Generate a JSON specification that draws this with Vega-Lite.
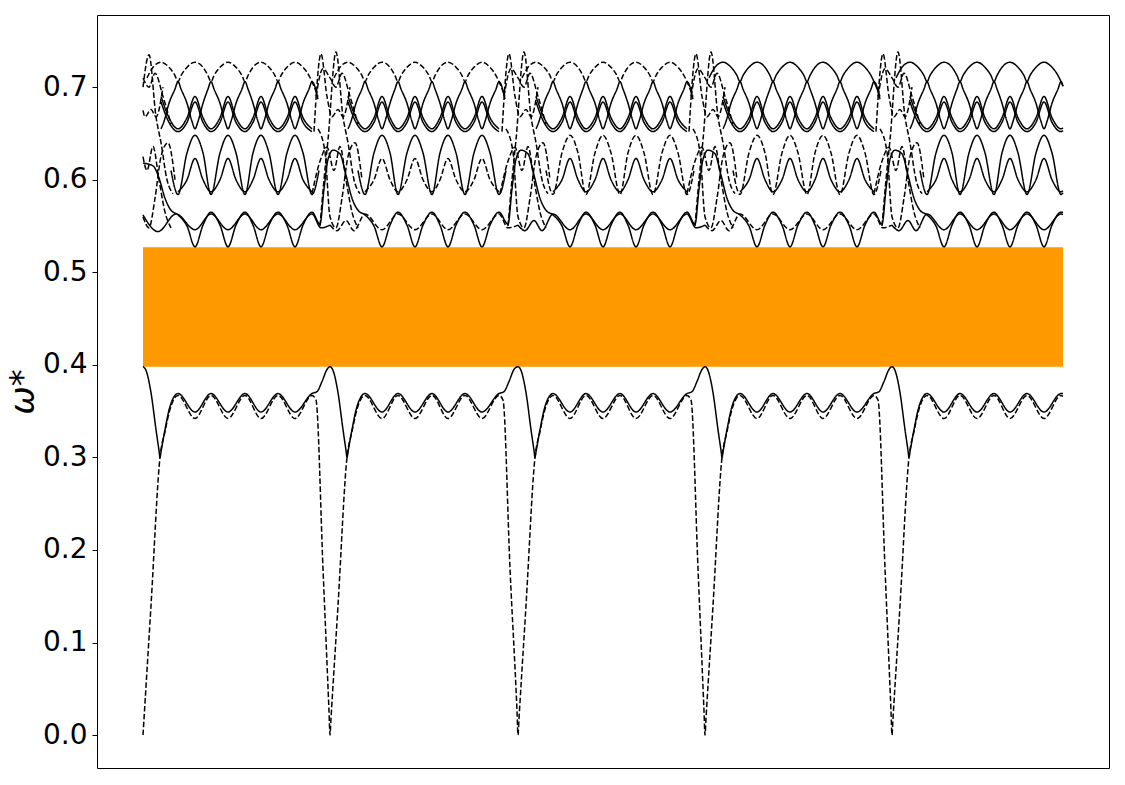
{
  "$schema": "https://vega.github.io/schema/vega-lite/v6.json",
  "description": "Band diagram: omega* branches over five repeated cells, with the gap between 0.398 and 0.527 shaded orange.",
  "width": 1012,
  "height": 753,
  "autosize": {"type": "none"},
  "padding": {"left": 97, "top": 15, "right": 16, "bottom": 17},
  "background": "white",
  "datasets": {
    "gap": [{"x": 0, "xe": 920, "y": 0.398, "ye": 0.527}],
    "styles": [
      {"c": "L2", "g": "dashed"},
      {"c": "B2_2", "g": "dashed"},
      {"c": "B2_4", "g": "dashed"},
      {"c": "M2_2", "g": "dashed"},
      {"c": "M1_3", "g": "dashed"},
      {"c": "M1_4", "g": "dashed"},
      {"c": "T1_1", "g": "dashed"},
      {"c": "T1_2", "g": "dashed"},
      {"c": "T1_3", "g": "dashed"}
    ],
    "curves": [
      {"c":"L1","x":0,"y":0.398},{"c":"L1","x":3,"y":0.394},{"c":"L1","x":8,"y":0.37},{"c":"L1","x":13,"y":0.33},{"c":"L1","x":16,"y":0.3075},{"c":"L1","x":17,"y":0.3},{"c":"L1","x":18,"y":0.306},{"c":"L1","x":22,"y":0.33},{"c":"L1","x":27,"y":0.355},{"c":"L1","x":35,"y":0.369},{"c":"L1","x":52,"y":0.349},{"c":"L1","x":68,"y":0.369},{"c":"L1","x":85,"y":0.349},{"c":"L1","x":102,"y":0.369},{"c":"L1","x":118,"y":0.349},{"c":"L1","x":135,"y":0.369},{"c":"L1","x":152,"y":0.349},{"c":"L1","x":169,"y":0.369},{"c":"L1","x":174,"y":0.371},{"c":"L1","x":179,"y":0.382},{"c":"L1","x":184,"y":0.395},
      {"c":"L1","x":187,"y":0.398},{"c":"L1","x":190,"y":0.394},{"c":"L1","x":195,"y":0.37},{"c":"L1","x":200,"y":0.33},{"c":"L1","x":203,"y":0.3075},{"c":"L1","x":204,"y":0.3},{"c":"L1","x":205,"y":0.306},{"c":"L1","x":209,"y":0.33},{"c":"L1","x":214,"y":0.355},{"c":"L1","x":222,"y":0.369},{"c":"L1","x":239,"y":0.349},{"c":"L1","x":255,"y":0.369},{"c":"L1","x":272,"y":0.349},{"c":"L1","x":289,"y":0.369},{"c":"L1","x":305,"y":0.349},{"c":"L1","x":322,"y":0.369},{"c":"L1","x":339,"y":0.349},{"c":"L1","x":356,"y":0.369},{"c":"L1","x":361,"y":0.371},{"c":"L1","x":366,"y":0.382},{"c":"L1","x":371,"y":0.395},
      {"c":"L1","x":375,"y":0.398},{"c":"L1","x":378,"y":0.394},{"c":"L1","x":383,"y":0.37},{"c":"L1","x":388,"y":0.33},{"c":"L1","x":391,"y":0.3075},{"c":"L1","x":392,"y":0.3},{"c":"L1","x":393,"y":0.306},{"c":"L1","x":397,"y":0.33},{"c":"L1","x":402,"y":0.355},{"c":"L1","x":410,"y":0.369},{"c":"L1","x":427,"y":0.349},{"c":"L1","x":443,"y":0.369},{"c":"L1","x":460,"y":0.349},{"c":"L1","x":477,"y":0.369},{"c":"L1","x":493,"y":0.349},{"c":"L1","x":510,"y":0.369},{"c":"L1","x":527,"y":0.349},{"c":"L1","x":544,"y":0.369},{"c":"L1","x":549,"y":0.371},{"c":"L1","x":554,"y":0.382},{"c":"L1","x":559,"y":0.395},
      {"c":"L1","x":562,"y":0.398},{"c":"L1","x":565,"y":0.394},{"c":"L1","x":570,"y":0.37},{"c":"L1","x":575,"y":0.33},{"c":"L1","x":578,"y":0.3075},{"c":"L1","x":579,"y":0.3},{"c":"L1","x":580,"y":0.306},{"c":"L1","x":584,"y":0.33},{"c":"L1","x":589,"y":0.355},{"c":"L1","x":597,"y":0.369},{"c":"L1","x":614,"y":0.349},{"c":"L1","x":630,"y":0.369},{"c":"L1","x":647,"y":0.349},{"c":"L1","x":664,"y":0.369},{"c":"L1","x":680,"y":0.349},{"c":"L1","x":697,"y":0.369},{"c":"L1","x":714,"y":0.349},{"c":"L1","x":731,"y":0.369},{"c":"L1","x":736,"y":0.371},{"c":"L1","x":741,"y":0.382},{"c":"L1","x":746,"y":0.395},
      {"c":"L1","x":749,"y":0.398},{"c":"L1","x":752,"y":0.394},{"c":"L1","x":757,"y":0.37},{"c":"L1","x":762,"y":0.33},{"c":"L1","x":765,"y":0.3075},{"c":"L1","x":766,"y":0.3},{"c":"L1","x":767,"y":0.306},{"c":"L1","x":771,"y":0.33},{"c":"L1","x":776,"y":0.355},{"c":"L1","x":784,"y":0.369},{"c":"L1","x":801,"y":0.349},{"c":"L1","x":817,"y":0.369},{"c":"L1","x":834,"y":0.349},{"c":"L1","x":851,"y":0.369},{"c":"L1","x":867,"y":0.349},{"c":"L1","x":884,"y":0.369},{"c":"L1","x":901,"y":0.349},{"c":"L1","x":918,"y":0.369},{"c":"L1","x":920,"y":0.369},

      {"c":"L2","x":0,"y":0.0},{"c":"L2","x":8,"y":0.14},{"c":"L2","x":17,"y":0.3},{"c":"L2","x":22,"y":0.328},{"c":"L2","x":27,"y":0.352},{"c":"L2","x":35,"y":0.367},{"c":"L2","x":52,"y":0.342},{"c":"L2","x":68,"y":0.367},{"c":"L2","x":85,"y":0.342},{"c":"L2","x":102,"y":0.367},{"c":"L2","x":118,"y":0.342},{"c":"L2","x":135,"y":0.367},{"c":"L2","x":152,"y":0.342},{"c":"L2","x":169,"y":0.367},{"c":"L2","x":173,"y":0.362},{"c":"L2","x":180,"y":0.18},{"c":"L2","x":186,"y":0.026},
      {"c":"L2","x":187,"y":0.0},{"c":"L2","x":188,"y":0.018},{"c":"L2","x":195,"y":0.14},{"c":"L2","x":204,"y":0.3},{"c":"L2","x":209,"y":0.328},{"c":"L2","x":214,"y":0.352},{"c":"L2","x":222,"y":0.367},{"c":"L2","x":239,"y":0.342},{"c":"L2","x":255,"y":0.367},{"c":"L2","x":272,"y":0.342},{"c":"L2","x":289,"y":0.367},{"c":"L2","x":305,"y":0.342},{"c":"L2","x":322,"y":0.367},{"c":"L2","x":339,"y":0.342},{"c":"L2","x":356,"y":0.367},{"c":"L2","x":360,"y":0.362},{"c":"L2","x":367,"y":0.18},{"c":"L2","x":374,"y":0.026},
      {"c":"L2","x":375,"y":0.0},{"c":"L2","x":376,"y":0.018},{"c":"L2","x":383,"y":0.14},{"c":"L2","x":392,"y":0.3},{"c":"L2","x":397,"y":0.328},{"c":"L2","x":402,"y":0.352},{"c":"L2","x":410,"y":0.367},{"c":"L2","x":427,"y":0.342},{"c":"L2","x":443,"y":0.367},{"c":"L2","x":460,"y":0.342},{"c":"L2","x":477,"y":0.367},{"c":"L2","x":493,"y":0.342},{"c":"L2","x":510,"y":0.367},{"c":"L2","x":527,"y":0.342},{"c":"L2","x":544,"y":0.367},{"c":"L2","x":548,"y":0.362},{"c":"L2","x":555,"y":0.18},{"c":"L2","x":561,"y":0.026},
      {"c":"L2","x":562,"y":0.0},{"c":"L2","x":563,"y":0.018},{"c":"L2","x":570,"y":0.14},{"c":"L2","x":579,"y":0.3},{"c":"L2","x":584,"y":0.328},{"c":"L2","x":589,"y":0.352},{"c":"L2","x":597,"y":0.367},{"c":"L2","x":614,"y":0.342},{"c":"L2","x":630,"y":0.367},{"c":"L2","x":647,"y":0.342},{"c":"L2","x":664,"y":0.367},{"c":"L2","x":680,"y":0.342},{"c":"L2","x":697,"y":0.367},{"c":"L2","x":714,"y":0.342},{"c":"L2","x":731,"y":0.367},{"c":"L2","x":735,"y":0.362},{"c":"L2","x":742,"y":0.18},{"c":"L2","x":748,"y":0.026},
      {"c":"L2","x":749,"y":0.0},{"c":"L2","x":750,"y":0.018},{"c":"L2","x":757,"y":0.14},{"c":"L2","x":766,"y":0.3},{"c":"L2","x":771,"y":0.328},{"c":"L2","x":776,"y":0.352},{"c":"L2","x":784,"y":0.367},{"c":"L2","x":801,"y":0.342},{"c":"L2","x":817,"y":0.367},{"c":"L2","x":834,"y":0.342},{"c":"L2","x":851,"y":0.367},{"c":"L2","x":867,"y":0.342},{"c":"L2","x":884,"y":0.367},{"c":"L2","x":901,"y":0.342},{"c":"L2","x":918,"y":0.367},{"c":"L2","x":920,"y":0.366},

      {"c":"B1","x":0,"y":0.618},{"c":"B1","x":10,"y":0.615},{"c":"B1","x":16,"y":0.602},{"c":"B1","x":22,"y":0.58},{"c":"B1","x":28,"y":0.567},{"c":"B1","x":35,"y":0.562},{"c":"B1","x":44,"y":0.55},{"c":"B1","x":52,"y":0.5275},{"c":"B1","x":60,"y":0.551},{"c":"B1","x":68,"y":0.565},{"c":"B1","x":77,"y":0.551},{"c":"B1","x":85,"y":0.5275},{"c":"B1","x":93,"y":0.551},{"c":"B1","x":102,"y":0.565},{"c":"B1","x":110,"y":0.551},{"c":"B1","x":118,"y":0.5275},{"c":"B1","x":126,"y":0.551},{"c":"B1","x":135,"y":0.565},{"c":"B1","x":144,"y":0.551},{"c":"B1","x":152,"y":0.5275},{"c":"B1","x":160,"y":0.551},{"c":"B1","x":169,"y":0.565},{"c":"B1","x":177,"y":0.552},{"c":"B1","x":181,"y":0.59},{"c":"B1","x":185,"y":0.622},
      {"c":"B1","x":190,"y":0.632},{"c":"B1","x":197,"y":0.628},{"c":"B1","x":203,"y":0.605},{"c":"B1","x":209,"y":0.58},{"c":"B1","x":215,"y":0.567},{"c":"B1","x":222,"y":0.562},{"c":"B1","x":231,"y":0.55},{"c":"B1","x":239,"y":0.5275},{"c":"B1","x":247,"y":0.551},{"c":"B1","x":255,"y":0.565},{"c":"B1","x":264,"y":0.551},{"c":"B1","x":272,"y":0.5275},{"c":"B1","x":280,"y":0.551},{"c":"B1","x":289,"y":0.565},{"c":"B1","x":297,"y":0.551},{"c":"B1","x":305,"y":0.5275},{"c":"B1","x":313,"y":0.551},{"c":"B1","x":322,"y":0.565},{"c":"B1","x":331,"y":0.551},{"c":"B1","x":339,"y":0.5275},{"c":"B1","x":347,"y":0.551},{"c":"B1","x":356,"y":0.565},{"c":"B1","x":365,"y":0.552},{"c":"B1","x":369,"y":0.59},{"c":"B1","x":373,"y":0.622},
      {"c":"B1","x":378,"y":0.632},{"c":"B1","x":385,"y":0.628},{"c":"B1","x":391,"y":0.605},{"c":"B1","x":397,"y":0.58},{"c":"B1","x":403,"y":0.567},{"c":"B1","x":410,"y":0.562},{"c":"B1","x":419,"y":0.55},{"c":"B1","x":427,"y":0.5275},{"c":"B1","x":435,"y":0.551},{"c":"B1","x":443,"y":0.565},{"c":"B1","x":452,"y":0.551},{"c":"B1","x":460,"y":0.5275},{"c":"B1","x":468,"y":0.551},{"c":"B1","x":477,"y":0.565},{"c":"B1","x":485,"y":0.551},{"c":"B1","x":493,"y":0.5275},{"c":"B1","x":501,"y":0.551},{"c":"B1","x":510,"y":0.565},{"c":"B1","x":519,"y":0.551},{"c":"B1","x":527,"y":0.5275},{"c":"B1","x":535,"y":0.551},{"c":"B1","x":544,"y":0.565},{"c":"B1","x":552,"y":0.552},{"c":"B1","x":556,"y":0.59},{"c":"B1","x":560,"y":0.622},
      {"c":"B1","x":565,"y":0.632},{"c":"B1","x":572,"y":0.628},{"c":"B1","x":578,"y":0.605},{"c":"B1","x":584,"y":0.58},{"c":"B1","x":590,"y":0.567},{"c":"B1","x":597,"y":0.562},{"c":"B1","x":606,"y":0.55},{"c":"B1","x":614,"y":0.5275},{"c":"B1","x":622,"y":0.551},{"c":"B1","x":630,"y":0.565},{"c":"B1","x":639,"y":0.551},{"c":"B1","x":647,"y":0.5275},{"c":"B1","x":655,"y":0.551},{"c":"B1","x":664,"y":0.565},{"c":"B1","x":672,"y":0.551},{"c":"B1","x":680,"y":0.5275},{"c":"B1","x":688,"y":0.551},{"c":"B1","x":697,"y":0.565},{"c":"B1","x":706,"y":0.551},{"c":"B1","x":714,"y":0.5275},{"c":"B1","x":722,"y":0.551},{"c":"B1","x":731,"y":0.565},{"c":"B1","x":739,"y":0.552},{"c":"B1","x":743,"y":0.59},{"c":"B1","x":747,"y":0.622},
      {"c":"B1","x":752,"y":0.632},{"c":"B1","x":759,"y":0.628},{"c":"B1","x":765,"y":0.605},{"c":"B1","x":771,"y":0.58},{"c":"B1","x":777,"y":0.567},{"c":"B1","x":784,"y":0.562},{"c":"B1","x":793,"y":0.55},{"c":"B1","x":801,"y":0.5275},{"c":"B1","x":809,"y":0.551},{"c":"B1","x":817,"y":0.565},{"c":"B1","x":826,"y":0.551},{"c":"B1","x":834,"y":0.5275},{"c":"B1","x":842,"y":0.551},{"c":"B1","x":851,"y":0.565},{"c":"B1","x":859,"y":0.551},{"c":"B1","x":867,"y":0.5275},{"c":"B1","x":875,"y":0.551},{"c":"B1","x":884,"y":0.565},{"c":"B1","x":893,"y":0.551},{"c":"B1","x":901,"y":0.5275},{"c":"B1","x":909,"y":0.551},{"c":"B1","x":918,"y":0.565},{"c":"B1","x":920,"y":0.565},

      {"c":"B2_1","x":0,"y":0.562},{"c":"B2_1","x":15,"y":0.544},{"c":"B2_1","x":33,"y":0.563},{"c":"B2_1","x":52,"y":0.546},{"c":"B2_1","x":68,"y":0.563},{"c":"B2_1","x":85,"y":0.546},{"c":"B2_1","x":102,"y":0.563},{"c":"B2_1","x":118,"y":0.546},{"c":"B2_1","x":135,"y":0.563},{"c":"B2_1","x":152,"y":0.546},{"c":"B2_1","x":169,"y":0.563},{"c":"B2_1","x":178,"y":0.548},{"c":"B2_1","x":187,"y":0.551},
      {"c":"B2_2","x":187,"y":0.551},{"c":"B2_2","x":194,"y":0.545},{"c":"B2_2","x":203,"y":0.556},{"c":"B2_2","x":211,"y":0.545},{"c":"B2_2","x":222,"y":0.563},{"c":"B2_2","x":239,"y":0.546},{"c":"B2_2","x":255,"y":0.563},{"c":"B2_2","x":272,"y":0.546},{"c":"B2_2","x":289,"y":0.563},{"c":"B2_2","x":305,"y":0.546},{"c":"B2_2","x":322,"y":0.563},{"c":"B2_2","x":339,"y":0.546},{"c":"B2_2","x":356,"y":0.563},{"c":"B2_2","x":365,"y":0.548},{"c":"B2_2","x":375,"y":0.551},
      {"c":"B2_3","x":375,"y":0.551},{"c":"B2_3","x":382,"y":0.545},{"c":"B2_3","x":391,"y":0.556},{"c":"B2_3","x":399,"y":0.545},{"c":"B2_3","x":410,"y":0.563},{"c":"B2_3","x":427,"y":0.546},{"c":"B2_3","x":443,"y":0.563},{"c":"B2_3","x":460,"y":0.546},{"c":"B2_3","x":477,"y":0.563},{"c":"B2_3","x":493,"y":0.546},{"c":"B2_3","x":510,"y":0.563},{"c":"B2_3","x":527,"y":0.546},{"c":"B2_3","x":544,"y":0.563},{"c":"B2_3","x":553,"y":0.548},{"c":"B2_3","x":562,"y":0.551},
      {"c":"B2_4","x":562,"y":0.551},{"c":"B2_4","x":569,"y":0.545},{"c":"B2_4","x":578,"y":0.556},{"c":"B2_4","x":586,"y":0.545},{"c":"B2_4","x":597,"y":0.563},{"c":"B2_4","x":614,"y":0.546},{"c":"B2_4","x":630,"y":0.563},{"c":"B2_4","x":647,"y":0.546},{"c":"B2_4","x":664,"y":0.563},{"c":"B2_4","x":680,"y":0.546},{"c":"B2_4","x":697,"y":0.563},{"c":"B2_4","x":714,"y":0.546},{"c":"B2_4","x":731,"y":0.563},{"c":"B2_4","x":740,"y":0.548},{"c":"B2_4","x":749,"y":0.551},
      {"c":"B2_5","x":749,"y":0.551},{"c":"B2_5","x":756,"y":0.545},{"c":"B2_5","x":765,"y":0.556},{"c":"B2_5","x":773,"y":0.545},{"c":"B2_5","x":784,"y":0.563},{"c":"B2_5","x":801,"y":0.546},{"c":"B2_5","x":817,"y":0.563},{"c":"B2_5","x":834,"y":0.546},{"c":"B2_5","x":851,"y":0.563},{"c":"B2_5","x":867,"y":0.546},{"c":"B2_5","x":884,"y":0.563},{"c":"B2_5","x":901,"y":0.546},{"c":"B2_5","x":918,"y":0.563},{"c":"B2_5","x":920,"y":0.5625},

      {"c":"M1_1","x":28,"y":0.61},{"c":"M1_1","x":35,"y":0.584},{"c":"M1_1","x":44,"y":0.629},{"c":"M1_1","x":52,"y":0.648},{"c":"M1_1","x":60,"y":0.629},{"c":"M1_1","x":68,"y":0.584},{"c":"M1_1","x":77,"y":0.629},{"c":"M1_1","x":85,"y":0.648},{"c":"M1_1","x":93,"y":0.629},{"c":"M1_1","x":102,"y":0.584},{"c":"M1_1","x":110,"y":0.629},{"c":"M1_1","x":118,"y":0.648},{"c":"M1_1","x":126,"y":0.629},{"c":"M1_1","x":135,"y":0.584},{"c":"M1_1","x":144,"y":0.629},{"c":"M1_1","x":152,"y":0.648},{"c":"M1_1","x":160,"y":0.629},{"c":"M1_1","x":169,"y":0.584},{"c":"M1_1","x":176,"y":0.61},
      {"c":"M1_2","x":215,"y":0.61},{"c":"M1_2","x":222,"y":0.584},{"c":"M1_2","x":231,"y":0.629},{"c":"M1_2","x":239,"y":0.648},{"c":"M1_2","x":247,"y":0.629},{"c":"M1_2","x":255,"y":0.584},{"c":"M1_2","x":264,"y":0.629},{"c":"M1_2","x":272,"y":0.648},{"c":"M1_2","x":280,"y":0.629},{"c":"M1_2","x":289,"y":0.584},{"c":"M1_2","x":297,"y":0.629},{"c":"M1_2","x":305,"y":0.648},{"c":"M1_2","x":313,"y":0.629},{"c":"M1_2","x":322,"y":0.584},{"c":"M1_2","x":331,"y":0.629},{"c":"M1_2","x":339,"y":0.648},{"c":"M1_2","x":347,"y":0.629},{"c":"M1_2","x":356,"y":0.584},{"c":"M1_2","x":363,"y":0.61},
      {"c":"M1_3","x":403,"y":0.61},{"c":"M1_3","x":410,"y":0.584},{"c":"M1_3","x":419,"y":0.629},{"c":"M1_3","x":427,"y":0.648},{"c":"M1_3","x":435,"y":0.629},{"c":"M1_3","x":443,"y":0.584},{"c":"M1_3","x":452,"y":0.629},{"c":"M1_3","x":460,"y":0.648},{"c":"M1_3","x":468,"y":0.629},{"c":"M1_3","x":477,"y":0.584},{"c":"M1_3","x":485,"y":0.629},{"c":"M1_3","x":493,"y":0.648},{"c":"M1_3","x":501,"y":0.629},{"c":"M1_3","x":510,"y":0.584},{"c":"M1_3","x":519,"y":0.629},{"c":"M1_3","x":527,"y":0.648},{"c":"M1_3","x":535,"y":0.629},{"c":"M1_3","x":544,"y":0.584},{"c":"M1_3","x":551,"y":0.61},
      {"c":"M1_4","x":590,"y":0.61},{"c":"M1_4","x":597,"y":0.584},{"c":"M1_4","x":606,"y":0.629},{"c":"M1_4","x":614,"y":0.648},{"c":"M1_4","x":622,"y":0.629},{"c":"M1_4","x":630,"y":0.584},{"c":"M1_4","x":639,"y":0.629},{"c":"M1_4","x":647,"y":0.648},{"c":"M1_4","x":655,"y":0.629},{"c":"M1_4","x":664,"y":0.584},{"c":"M1_4","x":672,"y":0.629},{"c":"M1_4","x":680,"y":0.648},{"c":"M1_4","x":688,"y":0.629},{"c":"M1_4","x":697,"y":0.584},{"c":"M1_4","x":706,"y":0.629},{"c":"M1_4","x":714,"y":0.648},{"c":"M1_4","x":722,"y":0.629},{"c":"M1_4","x":731,"y":0.584},{"c":"M1_4","x":738,"y":0.61},
      {"c":"M1_5","x":777,"y":0.61},{"c":"M1_5","x":784,"y":0.584},{"c":"M1_5","x":793,"y":0.629},{"c":"M1_5","x":801,"y":0.648},{"c":"M1_5","x":809,"y":0.629},{"c":"M1_5","x":817,"y":0.584},{"c":"M1_5","x":826,"y":0.629},{"c":"M1_5","x":834,"y":0.648},{"c":"M1_5","x":842,"y":0.629},{"c":"M1_5","x":851,"y":0.584},{"c":"M1_5","x":859,"y":0.629},{"c":"M1_5","x":867,"y":0.648},{"c":"M1_5","x":875,"y":0.629},{"c":"M1_5","x":884,"y":0.584},{"c":"M1_5","x":893,"y":0.629},{"c":"M1_5","x":901,"y":0.648},{"c":"M1_5","x":909,"y":0.629},{"c":"M1_5","x":918,"y":0.584},{"c":"M1_5","x":920,"y":0.586},

      {"c":"M2_1","x":35,"y":0.587},{"c":"M2_1","x":44,"y":0.6},{"c":"M2_1","x":52,"y":0.623},{"c":"M2_1","x":60,"y":0.6},{"c":"M2_1","x":68,"y":0.587},{"c":"M2_1","x":77,"y":0.6},{"c":"M2_1","x":85,"y":0.623},{"c":"M2_1","x":93,"y":0.6},{"c":"M2_1","x":102,"y":0.587},{"c":"M2_1","x":110,"y":0.6},{"c":"M2_1","x":118,"y":0.623},{"c":"M2_1","x":126,"y":0.6},{"c":"M2_1","x":135,"y":0.587},{"c":"M2_1","x":144,"y":0.6},{"c":"M2_1","x":152,"y":0.623},{"c":"M2_1","x":160,"y":0.6},{"c":"M2_1","x":169,"y":0.587},
      {"c":"M2_2","x":222,"y":0.587},{"c":"M2_2","x":231,"y":0.6},{"c":"M2_2","x":239,"y":0.623},{"c":"M2_2","x":247,"y":0.6},{"c":"M2_2","x":255,"y":0.587},{"c":"M2_2","x":264,"y":0.6},{"c":"M2_2","x":272,"y":0.623},{"c":"M2_2","x":280,"y":0.6},{"c":"M2_2","x":289,"y":0.587},{"c":"M2_2","x":297,"y":0.6},{"c":"M2_2","x":305,"y":0.623},{"c":"M2_2","x":313,"y":0.6},{"c":"M2_2","x":322,"y":0.587},{"c":"M2_2","x":331,"y":0.6},{"c":"M2_2","x":339,"y":0.623},{"c":"M2_2","x":347,"y":0.6},{"c":"M2_2","x":356,"y":0.587},
      {"c":"M2_3","x":410,"y":0.587},{"c":"M2_3","x":419,"y":0.6},{"c":"M2_3","x":427,"y":0.623},{"c":"M2_3","x":435,"y":0.6},{"c":"M2_3","x":443,"y":0.587},{"c":"M2_3","x":452,"y":0.6},{"c":"M2_3","x":460,"y":0.623},{"c":"M2_3","x":468,"y":0.6},{"c":"M2_3","x":477,"y":0.587},{"c":"M2_3","x":485,"y":0.6},{"c":"M2_3","x":493,"y":0.623},{"c":"M2_3","x":501,"y":0.6},{"c":"M2_3","x":510,"y":0.587},{"c":"M2_3","x":519,"y":0.6},{"c":"M2_3","x":527,"y":0.623},{"c":"M2_3","x":535,"y":0.6},{"c":"M2_3","x":544,"y":0.587},
      {"c":"M2_4","x":597,"y":0.587},{"c":"M2_4","x":606,"y":0.6},{"c":"M2_4","x":614,"y":0.623},{"c":"M2_4","x":622,"y":0.6},{"c":"M2_4","x":630,"y":0.587},{"c":"M2_4","x":639,"y":0.6},{"c":"M2_4","x":647,"y":0.623},{"c":"M2_4","x":655,"y":0.6},{"c":"M2_4","x":664,"y":0.587},{"c":"M2_4","x":672,"y":0.6},{"c":"M2_4","x":680,"y":0.623},{"c":"M2_4","x":688,"y":0.6},{"c":"M2_4","x":697,"y":0.587},{"c":"M2_4","x":706,"y":0.6},{"c":"M2_4","x":714,"y":0.623},{"c":"M2_4","x":722,"y":0.6},{"c":"M2_4","x":731,"y":0.587},
      {"c":"M2_5","x":784,"y":0.587},{"c":"M2_5","x":793,"y":0.6},{"c":"M2_5","x":801,"y":0.623},{"c":"M2_5","x":809,"y":0.6},{"c":"M2_5","x":817,"y":0.587},{"c":"M2_5","x":826,"y":0.6},{"c":"M2_5","x":834,"y":0.623},{"c":"M2_5","x":842,"y":0.6},{"c":"M2_5","x":851,"y":0.587},{"c":"M2_5","x":859,"y":0.6},{"c":"M2_5","x":867,"y":0.623},{"c":"M2_5","x":875,"y":0.6},{"c":"M2_5","x":884,"y":0.587},{"c":"M2_5","x":893,"y":0.6},{"c":"M2_5","x":901,"y":0.623},{"c":"M2_5","x":909,"y":0.6},{"c":"M2_5","x":918,"y":0.587},{"c":"M2_5","x":920,"y":0.588},

      {"c":"T1_1","x":4,"y":0.71},{"c":"T1_1","x":10,"y":0.7215},{"c":"T1_1","x":18,"y":0.727},{"c":"T1_1","x":26,"y":0.7215},{"c":"T1_1","x":32,"y":0.7126},{"c":"T1_1","x":35,"y":0.706},{"c":"T1_1","x":38,"y":0.7126},{"c":"T1_1","x":44,"y":0.7215},{"c":"T1_1","x":52,"y":0.727},{"c":"T1_1","x":60,"y":0.7215},{"c":"T1_1","x":65,"y":0.7126},{"c":"T1_1","x":68,"y":0.706},{"c":"T1_1","x":71,"y":0.7126},{"c":"T1_1","x":77,"y":0.7215},{"c":"T1_1","x":85,"y":0.727},{"c":"T1_1","x":93,"y":0.7215},{"c":"T1_1","x":99,"y":0.7126},{"c":"T1_1","x":102,"y":0.706},{"c":"T1_1","x":105,"y":0.7126},{"c":"T1_1","x":110,"y":0.7215},{"c":"T1_1","x":118,"y":0.727},{"c":"T1_1","x":126,"y":0.7215},{"c":"T1_1","x":132,"y":0.7126},{"c":"T1_1","x":135,"y":0.706},{"c":"T1_1","x":138,"y":0.7126},{"c":"T1_1","x":144,"y":0.7215},{"c":"T1_1","x":152,"y":0.727},{"c":"T1_1","x":160,"y":0.7215},{"c":"T1_1","x":166,"y":0.7126},{"c":"T1_1","x":169,"y":0.706},{"c":"T1_1","x":175,"y":0.69},
      {"c":"T1_2","x":191,"y":0.71},{"c":"T1_2","x":197,"y":0.7215},{"c":"T1_2","x":205,"y":0.727},{"c":"T1_2","x":213,"y":0.7215},{"c":"T1_2","x":219,"y":0.7126},{"c":"T1_2","x":222,"y":0.706},{"c":"T1_2","x":225,"y":0.7126},{"c":"T1_2","x":231,"y":0.7215},{"c":"T1_2","x":239,"y":0.727},{"c":"T1_2","x":247,"y":0.7215},{"c":"T1_2","x":252,"y":0.7126},{"c":"T1_2","x":255,"y":0.706},{"c":"T1_2","x":258,"y":0.7126},{"c":"T1_2","x":264,"y":0.7215},{"c":"T1_2","x":272,"y":0.727},{"c":"T1_2","x":280,"y":0.7215},{"c":"T1_2","x":286,"y":0.7126},{"c":"T1_2","x":289,"y":0.706},{"c":"T1_2","x":292,"y":0.7126},{"c":"T1_2","x":297,"y":0.7215},{"c":"T1_2","x":305,"y":0.727},{"c":"T1_2","x":313,"y":0.7215},{"c":"T1_2","x":319,"y":0.7126},{"c":"T1_2","x":322,"y":0.706},{"c":"T1_2","x":325,"y":0.7126},{"c":"T1_2","x":331,"y":0.7215},{"c":"T1_2","x":339,"y":0.727},{"c":"T1_2","x":347,"y":0.7215},{"c":"T1_2","x":353,"y":0.7126},{"c":"T1_2","x":356,"y":0.706},{"c":"T1_2","x":362,"y":0.69},
      {"c":"T1_3","x":379,"y":0.71},{"c":"T1_3","x":385,"y":0.7215},{"c":"T1_3","x":393,"y":0.727},{"c":"T1_3","x":401,"y":0.7215},{"c":"T1_3","x":407,"y":0.7126},{"c":"T1_3","x":410,"y":0.706},{"c":"T1_3","x":413,"y":0.7126},{"c":"T1_3","x":419,"y":0.7215},{"c":"T1_3","x":427,"y":0.727},{"c":"T1_3","x":435,"y":0.7215},{"c":"T1_3","x":440,"y":0.7126},{"c":"T1_3","x":443,"y":0.706},{"c":"T1_3","x":446,"y":0.7126},{"c":"T1_3","x":452,"y":0.7215},{"c":"T1_3","x":460,"y":0.727},{"c":"T1_3","x":468,"y":0.7215},{"c":"T1_3","x":474,"y":0.7126},{"c":"T1_3","x":477,"y":0.706},{"c":"T1_3","x":480,"y":0.7126},{"c":"T1_3","x":485,"y":0.7215},{"c":"T1_3","x":493,"y":0.727},{"c":"T1_3","x":501,"y":0.7215},{"c":"T1_3","x":507,"y":0.7126},{"c":"T1_3","x":510,"y":0.706},{"c":"T1_3","x":513,"y":0.7126},{"c":"T1_3","x":519,"y":0.7215},{"c":"T1_3","x":527,"y":0.727},{"c":"T1_3","x":535,"y":0.7215},{"c":"T1_3","x":541,"y":0.7126},{"c":"T1_3","x":544,"y":0.706},{"c":"T1_3","x":550,"y":0.69},
      {"c":"T1_4","x":566,"y":0.71},{"c":"T1_4","x":572,"y":0.7215},{"c":"T1_4","x":580,"y":0.727},{"c":"T1_4","x":588,"y":0.7215},{"c":"T1_4","x":594,"y":0.7126},{"c":"T1_4","x":597,"y":0.706},{"c":"T1_4","x":600,"y":0.7126},{"c":"T1_4","x":606,"y":0.7215},{"c":"T1_4","x":614,"y":0.727},{"c":"T1_4","x":622,"y":0.7215},{"c":"T1_4","x":627,"y":0.7126},{"c":"T1_4","x":630,"y":0.706},{"c":"T1_4","x":633,"y":0.7126},{"c":"T1_4","x":639,"y":0.7215},{"c":"T1_4","x":647,"y":0.727},{"c":"T1_4","x":655,"y":0.7215},{"c":"T1_4","x":661,"y":0.7126},{"c":"T1_4","x":664,"y":0.706},{"c":"T1_4","x":667,"y":0.7126},{"c":"T1_4","x":672,"y":0.7215},{"c":"T1_4","x":680,"y":0.727},{"c":"T1_4","x":688,"y":0.7215},{"c":"T1_4","x":694,"y":0.7126},{"c":"T1_4","x":697,"y":0.706},{"c":"T1_4","x":700,"y":0.7126},{"c":"T1_4","x":706,"y":0.7215},{"c":"T1_4","x":714,"y":0.727},{"c":"T1_4","x":722,"y":0.7215},{"c":"T1_4","x":728,"y":0.7126},{"c":"T1_4","x":731,"y":0.706},{"c":"T1_4","x":737,"y":0.69},
      {"c":"T1_5","x":753,"y":0.71},{"c":"T1_5","x":759,"y":0.7215},{"c":"T1_5","x":767,"y":0.727},{"c":"T1_5","x":775,"y":0.7215},{"c":"T1_5","x":781,"y":0.7126},{"c":"T1_5","x":784,"y":0.706},{"c":"T1_5","x":787,"y":0.7126},{"c":"T1_5","x":793,"y":0.7215},{"c":"T1_5","x":801,"y":0.727},{"c":"T1_5","x":809,"y":0.7215},{"c":"T1_5","x":814,"y":0.7126},{"c":"T1_5","x":817,"y":0.706},{"c":"T1_5","x":820,"y":0.7126},{"c":"T1_5","x":826,"y":0.7215},{"c":"T1_5","x":834,"y":0.727},{"c":"T1_5","x":842,"y":0.7215},{"c":"T1_5","x":848,"y":0.7126},{"c":"T1_5","x":851,"y":0.706},{"c":"T1_5","x":854,"y":0.7126},{"c":"T1_5","x":859,"y":0.7215},{"c":"T1_5","x":867,"y":0.727},{"c":"T1_5","x":875,"y":0.7215},{"c":"T1_5","x":881,"y":0.7126},{"c":"T1_5","x":884,"y":0.706},{"c":"T1_5","x":887,"y":0.7126},{"c":"T1_5","x":893,"y":0.7215},{"c":"T1_5","x":901,"y":0.727},{"c":"T1_5","x":909,"y":0.7215},{"c":"T1_5","x":915,"y":0.7126},{"c":"T1_5","x":918,"y":0.706},{"c":"T1_5","x":920,"y":0.701},

      {"c":"T0_1","x":18,"y":0.655},{"c":"T0_1","x":21,"y":0.663},{"c":"T0_1","x":26,"y":0.6826},{"c":"T0_1","x":32,"y":0.698},{"c":"T0_1","x":35,"y":0.706},{"c":"T0_1","x":38,"y":0.698},{"c":"T0_1","x":44,"y":0.6826},{"c":"T0_1","x":49,"y":0.663},{"c":"T0_1","x":52,"y":0.655},{"c":"T0_1","x":55,"y":0.663},{"c":"T0_1","x":60,"y":0.6826},{"c":"T0_1","x":65,"y":0.698},{"c":"T0_1","x":68,"y":0.706},{"c":"T0_1","x":71,"y":0.698},{"c":"T0_1","x":77,"y":0.6826},{"c":"T0_1","x":82,"y":0.663},{"c":"T0_1","x":85,"y":0.655},{"c":"T0_1","x":88,"y":0.663},{"c":"T0_1","x":93,"y":0.6826},{"c":"T0_1","x":99,"y":0.698},{"c":"T0_1","x":102,"y":0.706},{"c":"T0_1","x":105,"y":0.698},{"c":"T0_1","x":110,"y":0.6826},{"c":"T0_1","x":115,"y":0.663},{"c":"T0_1","x":118,"y":0.655},{"c":"T0_1","x":121,"y":0.663},{"c":"T0_1","x":126,"y":0.6826},{"c":"T0_1","x":132,"y":0.698},{"c":"T0_1","x":135,"y":0.706},{"c":"T0_1","x":138,"y":0.698},{"c":"T0_1","x":144,"y":0.6826},{"c":"T0_1","x":149,"y":0.663},{"c":"T0_1","x":152,"y":0.655},{"c":"T0_1","x":155,"y":0.663},{"c":"T0_1","x":160,"y":0.6826},{"c":"T0_1","x":166,"y":0.698},{"c":"T0_1","x":169,"y":0.706},{"c":"T0_1","x":175,"y":0.687},
      {"c":"T0_2","x":205,"y":0.655},{"c":"T0_2","x":208,"y":0.663},{"c":"T0_2","x":213,"y":0.6826},{"c":"T0_2","x":219,"y":0.698},{"c":"T0_2","x":222,"y":0.706},{"c":"T0_2","x":225,"y":0.698},{"c":"T0_2","x":231,"y":0.6826},{"c":"T0_2","x":236,"y":0.663},{"c":"T0_2","x":239,"y":0.655},{"c":"T0_2","x":242,"y":0.663},{"c":"T0_2","x":247,"y":0.6826},{"c":"T0_2","x":252,"y":0.698},{"c":"T0_2","x":255,"y":0.706},{"c":"T0_2","x":258,"y":0.698},{"c":"T0_2","x":264,"y":0.6826},{"c":"T0_2","x":269,"y":0.663},{"c":"T0_2","x":272,"y":0.655},{"c":"T0_2","x":275,"y":0.663},{"c":"T0_2","x":280,"y":0.6826},{"c":"T0_2","x":286,"y":0.698},{"c":"T0_2","x":289,"y":0.706},{"c":"T0_2","x":292,"y":0.698},{"c":"T0_2","x":297,"y":0.6826},{"c":"T0_2","x":302,"y":0.663},{"c":"T0_2","x":305,"y":0.655},{"c":"T0_2","x":308,"y":0.663},{"c":"T0_2","x":313,"y":0.6826},{"c":"T0_2","x":319,"y":0.698},{"c":"T0_2","x":322,"y":0.706},{"c":"T0_2","x":325,"y":0.698},{"c":"T0_2","x":331,"y":0.6826},{"c":"T0_2","x":336,"y":0.663},{"c":"T0_2","x":339,"y":0.655},{"c":"T0_2","x":342,"y":0.663},{"c":"T0_2","x":347,"y":0.6826},{"c":"T0_2","x":353,"y":0.698},{"c":"T0_2","x":356,"y":0.706},{"c":"T0_2","x":362,"y":0.687},
      {"c":"T0_3","x":393,"y":0.655},{"c":"T0_3","x":396,"y":0.663},{"c":"T0_3","x":401,"y":0.6826},{"c":"T0_3","x":407,"y":0.698},{"c":"T0_3","x":410,"y":0.706},{"c":"T0_3","x":413,"y":0.698},{"c":"T0_3","x":419,"y":0.6826},{"c":"T0_3","x":424,"y":0.663},{"c":"T0_3","x":427,"y":0.655},{"c":"T0_3","x":430,"y":0.663},{"c":"T0_3","x":435,"y":0.6826},{"c":"T0_3","x":440,"y":0.698},{"c":"T0_3","x":443,"y":0.706},{"c":"T0_3","x":446,"y":0.698},{"c":"T0_3","x":452,"y":0.6826},{"c":"T0_3","x":457,"y":0.663},{"c":"T0_3","x":460,"y":0.655},{"c":"T0_3","x":463,"y":0.663},{"c":"T0_3","x":468,"y":0.6826},{"c":"T0_3","x":474,"y":0.698},{"c":"T0_3","x":477,"y":0.706},{"c":"T0_3","x":480,"y":0.698},{"c":"T0_3","x":485,"y":0.6826},{"c":"T0_3","x":490,"y":0.663},{"c":"T0_3","x":493,"y":0.655},{"c":"T0_3","x":496,"y":0.663},{"c":"T0_3","x":501,"y":0.6826},{"c":"T0_3","x":507,"y":0.698},{"c":"T0_3","x":510,"y":0.706},{"c":"T0_3","x":513,"y":0.698},{"c":"T0_3","x":519,"y":0.6826},{"c":"T0_3","x":524,"y":0.663},{"c":"T0_3","x":527,"y":0.655},{"c":"T0_3","x":530,"y":0.663},{"c":"T0_3","x":535,"y":0.6826},{"c":"T0_3","x":541,"y":0.698},{"c":"T0_3","x":544,"y":0.706},{"c":"T0_3","x":550,"y":0.687},
      {"c":"T0_4","x":580,"y":0.655},{"c":"T0_4","x":583,"y":0.663},{"c":"T0_4","x":588,"y":0.6826},{"c":"T0_4","x":594,"y":0.698},{"c":"T0_4","x":597,"y":0.706},{"c":"T0_4","x":600,"y":0.698},{"c":"T0_4","x":606,"y":0.6826},{"c":"T0_4","x":611,"y":0.663},{"c":"T0_4","x":614,"y":0.655},{"c":"T0_4","x":617,"y":0.663},{"c":"T0_4","x":622,"y":0.6826},{"c":"T0_4","x":627,"y":0.698},{"c":"T0_4","x":630,"y":0.706},{"c":"T0_4","x":633,"y":0.698},{"c":"T0_4","x":639,"y":0.6826},{"c":"T0_4","x":644,"y":0.663},{"c":"T0_4","x":647,"y":0.655},{"c":"T0_4","x":650,"y":0.663},{"c":"T0_4","x":655,"y":0.6826},{"c":"T0_4","x":661,"y":0.698},{"c":"T0_4","x":664,"y":0.706},{"c":"T0_4","x":667,"y":0.698},{"c":"T0_4","x":672,"y":0.6826},{"c":"T0_4","x":677,"y":0.663},{"c":"T0_4","x":680,"y":0.655},{"c":"T0_4","x":683,"y":0.663},{"c":"T0_4","x":688,"y":0.6826},{"c":"T0_4","x":694,"y":0.698},{"c":"T0_4","x":697,"y":0.706},{"c":"T0_4","x":700,"y":0.698},{"c":"T0_4","x":706,"y":0.6826},{"c":"T0_4","x":711,"y":0.663},{"c":"T0_4","x":714,"y":0.655},{"c":"T0_4","x":717,"y":0.663},{"c":"T0_4","x":722,"y":0.6826},{"c":"T0_4","x":728,"y":0.698},{"c":"T0_4","x":731,"y":0.706},{"c":"T0_4","x":737,"y":0.687},
      {"c":"T0_5","x":767,"y":0.655},{"c":"T0_5","x":770,"y":0.663},{"c":"T0_5","x":775,"y":0.6826},{"c":"T0_5","x":781,"y":0.698},{"c":"T0_5","x":784,"y":0.706},{"c":"T0_5","x":787,"y":0.698},{"c":"T0_5","x":793,"y":0.6826},{"c":"T0_5","x":798,"y":0.663},{"c":"T0_5","x":801,"y":0.655},{"c":"T0_5","x":804,"y":0.663},{"c":"T0_5","x":809,"y":0.6826},{"c":"T0_5","x":814,"y":0.698},{"c":"T0_5","x":817,"y":0.706},{"c":"T0_5","x":820,"y":0.698},{"c":"T0_5","x":826,"y":0.6826},{"c":"T0_5","x":831,"y":0.663},{"c":"T0_5","x":834,"y":0.655},{"c":"T0_5","x":837,"y":0.663},{"c":"T0_5","x":842,"y":0.6826},{"c":"T0_5","x":848,"y":0.698},{"c":"T0_5","x":851,"y":0.706},{"c":"T0_5","x":854,"y":0.698},{"c":"T0_5","x":859,"y":0.6826},{"c":"T0_5","x":864,"y":0.663},{"c":"T0_5","x":867,"y":0.655},{"c":"T0_5","x":870,"y":0.663},{"c":"T0_5","x":875,"y":0.6826},{"c":"T0_5","x":881,"y":0.698},{"c":"T0_5","x":884,"y":0.706},{"c":"T0_5","x":887,"y":0.698},{"c":"T0_5","x":893,"y":0.6826},{"c":"T0_5","x":898,"y":0.663},{"c":"T0_5","x":901,"y":0.655},{"c":"T0_5","x":904,"y":0.663},{"c":"T0_5","x":909,"y":0.6826},{"c":"T0_5","x":915,"y":0.698},{"c":"T0_5","x":918,"y":0.706},{"c":"T0_5","x":920,"y":0.701},

      {"c":"T2_1","x":18,"y":0.69},{"c":"T2_1","x":26,"y":0.667},{"c":"T2_1","x":35,"y":0.655},{"c":"T2_1","x":44,"y":0.667},{"c":"T2_1","x":52,"y":0.69},{"c":"T2_1","x":60,"y":0.667},{"c":"T2_1","x":68,"y":0.655},{"c":"T2_1","x":77,"y":0.667},{"c":"T2_1","x":85,"y":0.69},{"c":"T2_1","x":93,"y":0.667},{"c":"T2_1","x":102,"y":0.655},{"c":"T2_1","x":110,"y":0.667},{"c":"T2_1","x":118,"y":0.69},{"c":"T2_1","x":126,"y":0.667},{"c":"T2_1","x":135,"y":0.655},{"c":"T2_1","x":144,"y":0.667},{"c":"T2_1","x":152,"y":0.69},{"c":"T2_1","x":160,"y":0.667},{"c":"T2_1","x":169,"y":0.655},
      {"c":"T2_2","x":205,"y":0.69},{"c":"T2_2","x":213,"y":0.667},{"c":"T2_2","x":222,"y":0.655},{"c":"T2_2","x":231,"y":0.667},{"c":"T2_2","x":239,"y":0.69},{"c":"T2_2","x":247,"y":0.667},{"c":"T2_2","x":255,"y":0.655},{"c":"T2_2","x":264,"y":0.667},{"c":"T2_2","x":272,"y":0.69},{"c":"T2_2","x":280,"y":0.667},{"c":"T2_2","x":289,"y":0.655},{"c":"T2_2","x":297,"y":0.667},{"c":"T2_2","x":305,"y":0.69},{"c":"T2_2","x":313,"y":0.667},{"c":"T2_2","x":322,"y":0.655},{"c":"T2_2","x":331,"y":0.667},{"c":"T2_2","x":339,"y":0.69},{"c":"T2_2","x":347,"y":0.667},{"c":"T2_2","x":356,"y":0.655},
      {"c":"T2_3","x":393,"y":0.69},{"c":"T2_3","x":401,"y":0.667},{"c":"T2_3","x":410,"y":0.655},{"c":"T2_3","x":419,"y":0.667},{"c":"T2_3","x":427,"y":0.69},{"c":"T2_3","x":435,"y":0.667},{"c":"T2_3","x":443,"y":0.655},{"c":"T2_3","x":452,"y":0.667},{"c":"T2_3","x":460,"y":0.69},{"c":"T2_3","x":468,"y":0.667},{"c":"T2_3","x":477,"y":0.655},{"c":"T2_3","x":485,"y":0.667},{"c":"T2_3","x":493,"y":0.69},{"c":"T2_3","x":501,"y":0.667},{"c":"T2_3","x":510,"y":0.655},{"c":"T2_3","x":519,"y":0.667},{"c":"T2_3","x":527,"y":0.69},{"c":"T2_3","x":535,"y":0.667},{"c":"T2_3","x":544,"y":0.655},
      {"c":"T2_4","x":580,"y":0.69},{"c":"T2_4","x":588,"y":0.667},{"c":"T2_4","x":597,"y":0.655},{"c":"T2_4","x":606,"y":0.667},{"c":"T2_4","x":614,"y":0.69},{"c":"T2_4","x":622,"y":0.667},{"c":"T2_4","x":630,"y":0.655},{"c":"T2_4","x":639,"y":0.667},{"c":"T2_4","x":647,"y":0.69},{"c":"T2_4","x":655,"y":0.667},{"c":"T2_4","x":664,"y":0.655},{"c":"T2_4","x":672,"y":0.667},{"c":"T2_4","x":680,"y":0.69},{"c":"T2_4","x":688,"y":0.667},{"c":"T2_4","x":697,"y":0.655},{"c":"T2_4","x":706,"y":0.667},{"c":"T2_4","x":714,"y":0.69},{"c":"T2_4","x":722,"y":0.667},{"c":"T2_4","x":731,"y":0.655},
      {"c":"T2_5","x":767,"y":0.69},{"c":"T2_5","x":775,"y":0.667},{"c":"T2_5","x":784,"y":0.655},{"c":"T2_5","x":793,"y":0.667},{"c":"T2_5","x":801,"y":0.69},{"c":"T2_5","x":809,"y":0.667},{"c":"T2_5","x":817,"y":0.655},{"c":"T2_5","x":826,"y":0.667},{"c":"T2_5","x":834,"y":0.69},{"c":"T2_5","x":842,"y":0.667},{"c":"T2_5","x":851,"y":0.655},{"c":"T2_5","x":859,"y":0.667},{"c":"T2_5","x":867,"y":0.69},{"c":"T2_5","x":875,"y":0.667},{"c":"T2_5","x":884,"y":0.655},{"c":"T2_5","x":893,"y":0.667},{"c":"T2_5","x":901,"y":0.69},{"c":"T2_5","x":909,"y":0.667},{"c":"T2_5","x":918,"y":0.655},{"c":"T2_5","x":920,"y":0.656},

      {"c":"T3_1","x":18,"y":0.684},{"c":"T3_1","x":26,"y":0.662},{"c":"T3_1","x":35,"y":0.652},{"c":"T3_1","x":44,"y":0.662},{"c":"T3_1","x":52,"y":0.684},{"c":"T3_1","x":60,"y":0.662},{"c":"T3_1","x":68,"y":0.652},{"c":"T3_1","x":77,"y":0.662},{"c":"T3_1","x":85,"y":0.684},{"c":"T3_1","x":93,"y":0.662},{"c":"T3_1","x":102,"y":0.652},{"c":"T3_1","x":110,"y":0.662},{"c":"T3_1","x":118,"y":0.684},{"c":"T3_1","x":126,"y":0.662},{"c":"T3_1","x":135,"y":0.652},{"c":"T3_1","x":144,"y":0.662},{"c":"T3_1","x":152,"y":0.684},{"c":"T3_1","x":160,"y":0.662},{"c":"T3_1","x":169,"y":0.652},
      {"c":"T3_2","x":205,"y":0.684},{"c":"T3_2","x":213,"y":0.662},{"c":"T3_2","x":222,"y":0.652},{"c":"T3_2","x":231,"y":0.662},{"c":"T3_2","x":239,"y":0.684},{"c":"T3_2","x":247,"y":0.662},{"c":"T3_2","x":255,"y":0.652},{"c":"T3_2","x":264,"y":0.662},{"c":"T3_2","x":272,"y":0.684},{"c":"T3_2","x":280,"y":0.662},{"c":"T3_2","x":289,"y":0.652},{"c":"T3_2","x":297,"y":0.662},{"c":"T3_2","x":305,"y":0.684},{"c":"T3_2","x":313,"y":0.662},{"c":"T3_2","x":322,"y":0.652},{"c":"T3_2","x":331,"y":0.662},{"c":"T3_2","x":339,"y":0.684},{"c":"T3_2","x":347,"y":0.662},{"c":"T3_2","x":356,"y":0.652},
      {"c":"T3_3","x":393,"y":0.684},{"c":"T3_3","x":401,"y":0.662},{"c":"T3_3","x":410,"y":0.652},{"c":"T3_3","x":419,"y":0.662},{"c":"T3_3","x":427,"y":0.684},{"c":"T3_3","x":435,"y":0.662},{"c":"T3_3","x":443,"y":0.652},{"c":"T3_3","x":452,"y":0.662},{"c":"T3_3","x":460,"y":0.684},{"c":"T3_3","x":468,"y":0.662},{"c":"T3_3","x":477,"y":0.652},{"c":"T3_3","x":485,"y":0.662},{"c":"T3_3","x":493,"y":0.684},{"c":"T3_3","x":501,"y":0.662},{"c":"T3_3","x":510,"y":0.652},{"c":"T3_3","x":519,"y":0.662},{"c":"T3_3","x":527,"y":0.684},{"c":"T3_3","x":535,"y":0.662},{"c":"T3_3","x":544,"y":0.652},
      {"c":"T3_4","x":580,"y":0.684},{"c":"T3_4","x":588,"y":0.662},{"c":"T3_4","x":597,"y":0.652},{"c":"T3_4","x":606,"y":0.662},{"c":"T3_4","x":614,"y":0.684},{"c":"T3_4","x":622,"y":0.662},{"c":"T3_4","x":630,"y":0.652},{"c":"T3_4","x":639,"y":0.662},{"c":"T3_4","x":647,"y":0.684},{"c":"T3_4","x":655,"y":0.662},{"c":"T3_4","x":664,"y":0.652},{"c":"T3_4","x":672,"y":0.662},{"c":"T3_4","x":680,"y":0.684},{"c":"T3_4","x":688,"y":0.662},{"c":"T3_4","x":697,"y":0.652},{"c":"T3_4","x":706,"y":0.662},{"c":"T3_4","x":714,"y":0.684},{"c":"T3_4","x":722,"y":0.662},{"c":"T3_4","x":731,"y":0.652},
      {"c":"T3_5","x":767,"y":0.684},{"c":"T3_5","x":775,"y":0.662},{"c":"T3_5","x":784,"y":0.652},{"c":"T3_5","x":793,"y":0.662},{"c":"T3_5","x":801,"y":0.684},{"c":"T3_5","x":809,"y":0.662},{"c":"T3_5","x":817,"y":0.652},{"c":"T3_5","x":826,"y":0.662},{"c":"T3_5","x":834,"y":0.684},{"c":"T3_5","x":842,"y":0.662},{"c":"T3_5","x":851,"y":0.652},{"c":"T3_5","x":859,"y":0.662},{"c":"T3_5","x":867,"y":0.684},{"c":"T3_5","x":875,"y":0.662},{"c":"T3_5","x":884,"y":0.652},{"c":"T3_5","x":893,"y":0.662},{"c":"T3_5","x":901,"y":0.684},{"c":"T3_5","x":909,"y":0.662},{"c":"T3_5","x":918,"y":0.652},{"c":"T3_5","x":920,"y":0.653}
    ],
    "mess": [
      {"c":"X1_0","x":0,"y":0.675},{"c":"X1_0","x":2,"y":0.668},{"c":"X1_0","x":8,"y":0.676},{"c":"X1_0","x":13,"y":0.668},{"c":"X1_0","x":20,"y":0.7},
      {"c":"X2_0","x":0,"y":0.7},{"c":"X2_0","x":6,"y":0.735},{"c":"X2_0","x":13,"y":0.668},{"c":"X2_0","x":18,"y":0.64},{"c":"X2_0","x":24,"y":0.6},{"c":"X2_0","x":30,"y":0.585},
      {"c":"X3_0","x":0,"y":0.71},{"c":"X3_0","x":6,"y":0.7},{"c":"X3_0","x":12,"y":0.715},{"c":"X3_0","x":20,"y":0.69},{"c":"X3_0","x":28,"y":0.66},
      {"c":"X4_0","x":0,"y":0.625},{"c":"X4_0","x":4,"y":0.61},{"c":"X4_0","x":10,"y":0.636},{"c":"X4_0","x":16,"y":0.6},{"c":"X4_0","x":22,"y":0.565},{"c":"X4_0","x":28,"y":0.548},
      {"c":"X5_0","x":0,"y":0.56},{"c":"X5_0","x":6,"y":0.548},{"c":"X5_0","x":12,"y":0.58},{"c":"X5_0","x":18,"y":0.625},{"c":"X5_0","x":25,"y":0.64},{"c":"X5_0","x":32,"y":0.6},

      {"c":"X1_1","x":171,"y":0.652},{"c":"X1_1","x":178,"y":0.736},{"c":"X1_1","x":184,"y":0.69},{"c":"X1_1","x":189,"y":0.668},{"c":"X1_1","x":195,"y":0.676},{"c":"X1_1","x":200,"y":0.668},{"c":"X1_1","x":207,"y":0.7},
      {"c":"X2_1","x":177,"y":0.55},{"c":"X2_1","x":181,"y":0.6},{"c":"X2_1","x":185,"y":0.643},{"c":"X2_1","x":193,"y":0.738},{"c":"X2_1","x":200,"y":0.668},{"c":"X2_1","x":205,"y":0.64},{"c":"X2_1","x":211,"y":0.6},{"c":"X2_1","x":217,"y":0.585},
      {"c":"X3_1","x":173,"y":0.69},{"c":"X3_1","x":180,"y":0.72},{"c":"X3_1","x":187,"y":0.71},{"c":"X3_1","x":193,"y":0.7},{"c":"X3_1","x":199,"y":0.715},{"c":"X3_1","x":207,"y":0.69},{"c":"X3_1","x":215,"y":0.66},
      {"c":"X4_1","x":169,"y":0.585},{"c":"X4_1","x":177,"y":0.62},{"c":"X4_1","x":184,"y":0.635},{"c":"X4_1","x":191,"y":0.61},{"c":"X4_1","x":197,"y":0.636},{"c":"X4_1","x":203,"y":0.6},{"c":"X4_1","x":209,"y":0.565},{"c":"X4_1","x":215,"y":0.548},
      {"c":"X5_1","x":175,"y":0.655},{"c":"X5_1","x":182,"y":0.63},{"c":"X5_1","x":187,"y":0.56},{"c":"X5_1","x":193,"y":0.548},{"c":"X5_1","x":199,"y":0.58},{"c":"X5_1","x":205,"y":0.625},{"c":"X5_1","x":212,"y":0.64},{"c":"X5_1","x":219,"y":0.6},

      {"c":"X1_2","x":359,"y":0.652},{"c":"X1_2","x":366,"y":0.736},{"c":"X1_2","x":372,"y":0.69},{"c":"X1_2","x":377,"y":0.668},{"c":"X1_2","x":383,"y":0.676},{"c":"X1_2","x":388,"y":0.668},{"c":"X1_2","x":395,"y":0.7},
      {"c":"X2_2","x":365,"y":0.55},{"c":"X2_2","x":369,"y":0.6},{"c":"X2_2","x":373,"y":0.643},{"c":"X2_2","x":381,"y":0.738},{"c":"X2_2","x":388,"y":0.668},{"c":"X2_2","x":393,"y":0.64},{"c":"X2_2","x":399,"y":0.6},{"c":"X2_2","x":405,"y":0.585},
      {"c":"X3_2","x":361,"y":0.69},{"c":"X3_2","x":368,"y":0.72},{"c":"X3_2","x":375,"y":0.71},{"c":"X3_2","x":381,"y":0.7},{"c":"X3_2","x":387,"y":0.715},{"c":"X3_2","x":395,"y":0.69},{"c":"X3_2","x":403,"y":0.66},
      {"c":"X4_2","x":357,"y":0.585},{"c":"X4_2","x":365,"y":0.62},{"c":"X4_2","x":372,"y":0.635},{"c":"X4_2","x":379,"y":0.61},{"c":"X4_2","x":385,"y":0.636},{"c":"X4_2","x":391,"y":0.6},{"c":"X4_2","x":397,"y":0.565},{"c":"X4_2","x":403,"y":0.548},
      {"c":"X5_2","x":363,"y":0.655},{"c":"X5_2","x":370,"y":0.63},{"c":"X5_2","x":375,"y":0.56},{"c":"X5_2","x":381,"y":0.548},{"c":"X5_2","x":387,"y":0.58},{"c":"X5_2","x":393,"y":0.625},{"c":"X5_2","x":400,"y":0.64},{"c":"X5_2","x":407,"y":0.6},

      {"c":"X1_3","x":546,"y":0.652},{"c":"X1_3","x":553,"y":0.736},{"c":"X1_3","x":559,"y":0.69},{"c":"X1_3","x":564,"y":0.668},{"c":"X1_3","x":570,"y":0.676},{"c":"X1_3","x":575,"y":0.668},{"c":"X1_3","x":582,"y":0.7},
      {"c":"X2_3","x":552,"y":0.55},{"c":"X2_3","x":556,"y":0.6},{"c":"X2_3","x":560,"y":0.643},{"c":"X2_3","x":568,"y":0.738},{"c":"X2_3","x":575,"y":0.668},{"c":"X2_3","x":580,"y":0.64},{"c":"X2_3","x":586,"y":0.6},{"c":"X2_3","x":592,"y":0.585},
      {"c":"X3_3","x":548,"y":0.69},{"c":"X3_3","x":555,"y":0.72},{"c":"X3_3","x":562,"y":0.71},{"c":"X3_3","x":568,"y":0.7},{"c":"X3_3","x":574,"y":0.715},{"c":"X3_3","x":582,"y":0.69},{"c":"X3_3","x":590,"y":0.66},
      {"c":"X4_3","x":544,"y":0.585},{"c":"X4_3","x":552,"y":0.62},{"c":"X4_3","x":559,"y":0.635},{"c":"X4_3","x":566,"y":0.61},{"c":"X4_3","x":572,"y":0.636},{"c":"X4_3","x":578,"y":0.6},{"c":"X4_3","x":584,"y":0.565},{"c":"X4_3","x":590,"y":0.548},
      {"c":"X5_3","x":550,"y":0.655},{"c":"X5_3","x":557,"y":0.63},{"c":"X5_3","x":562,"y":0.56},{"c":"X5_3","x":568,"y":0.548},{"c":"X5_3","x":574,"y":0.58},{"c":"X5_3","x":580,"y":0.625},{"c":"X5_3","x":587,"y":0.64},{"c":"X5_3","x":594,"y":0.6},

      {"c":"X1_4","x":733,"y":0.652},{"c":"X1_4","x":740,"y":0.736},{"c":"X1_4","x":746,"y":0.69},{"c":"X1_4","x":751,"y":0.668},{"c":"X1_4","x":757,"y":0.676},{"c":"X1_4","x":762,"y":0.668},{"c":"X1_4","x":769,"y":0.7},
      {"c":"X2_4","x":739,"y":0.55},{"c":"X2_4","x":743,"y":0.6},{"c":"X2_4","x":747,"y":0.643},{"c":"X2_4","x":755,"y":0.738},{"c":"X2_4","x":762,"y":0.668},{"c":"X2_4","x":767,"y":0.64},{"c":"X2_4","x":773,"y":0.6},{"c":"X2_4","x":779,"y":0.585},
      {"c":"X3_4","x":735,"y":0.69},{"c":"X3_4","x":742,"y":0.72},{"c":"X3_4","x":749,"y":0.71},{"c":"X3_4","x":755,"y":0.7},{"c":"X3_4","x":761,"y":0.715},{"c":"X3_4","x":769,"y":0.69},{"c":"X3_4","x":777,"y":0.66},
      {"c":"X4_4","x":731,"y":0.585},{"c":"X4_4","x":739,"y":0.62},{"c":"X4_4","x":746,"y":0.635},{"c":"X4_4","x":753,"y":0.61},{"c":"X4_4","x":759,"y":0.636},{"c":"X4_4","x":765,"y":0.6},{"c":"X4_4","x":771,"y":0.565},{"c":"X4_4","x":777,"y":0.548},
      {"c":"X5_4","x":737,"y":0.655},{"c":"X5_4","x":744,"y":0.63},{"c":"X5_4","x":749,"y":0.56},{"c":"X5_4","x":755,"y":0.548},{"c":"X5_4","x":761,"y":0.58},{"c":"X5_4","x":767,"y":0.625},{"c":"X5_4","x":774,"y":0.64},{"c":"X5_4","x":781,"y":0.6}
    ]
  },
  "encoding": {
    "x": {
      "field": "x",
      "type": "quantitative",
      "scale": {"domain": [-46, 966], "nice": false, "zero": false},
      "axis": null
    },
    "y": {
      "field": "y",
      "type": "quantitative",
      "scale": {"domain": [-0.0356, 0.778], "nice": false, "zero": false},
      "axis": {
        "title": "ω*",
        "values": [0, 0.1, 0.2, 0.3, 0.4, 0.5, 0.6, 0.7],
        "format": ".1f",
        "grid": false,
        "domain": false,
        "tickSize": 5,
        "tickColor": "black",
        "labelFont": "DejaVu Sans",
        "labelFontSize": 28,
        "labelColor": "black",
        "labelPadding": 5,
        "titleFont": "DejaVu Sans",
        "titleFontSize": 34,
        "titleFontStyle": "italic",
        "titleFontWeight": "normal",
        "titleColor": "black",
        "titleBaseline": "alphabetic",
        "titlePadding": 9
      }
    }
  },
  "layer": [
    {
      "data": {"name": "gap"},
      "mark": {"type": "rect", "color": "#ff9900"},
      "encoding": {"x2": {"field": "xe"}, "y2": {"field": "ye"}}
    },
    {
      "data": {"name": "curves"},
      "transform": [
        {
          "lookup": "c",
          "from": {"data": {"name": "styles"}, "key": "c", "fields": ["g"]},
          "default": "solid"
        }
      ],
      "mark": {"type": "line", "interpolate": "monotone", "color": "black", "strokeWidth": 1.5},
      "encoding": {
        "detail": {"field": "c"},
        "strokeDash": {
          "field": "g",
          "type": "nominal",
          "scale": {"domain": ["solid", "dashed"], "range": [[1, 0], [5.5, 2.4]]},
          "legend": null
        }
      }
    },
    {
      "data": {"name": "mess"},
      "mark": {
        "type": "line",
        "interpolate": "monotone",
        "color": "black",
        "strokeWidth": 1.5,
        "strokeDash": [5.5, 2.4]
      },
      "encoding": {"detail": {"field": "c"}}
    }
  ],
  "config": {"view": {"stroke": "black", "strokeWidth": 1}}
}
